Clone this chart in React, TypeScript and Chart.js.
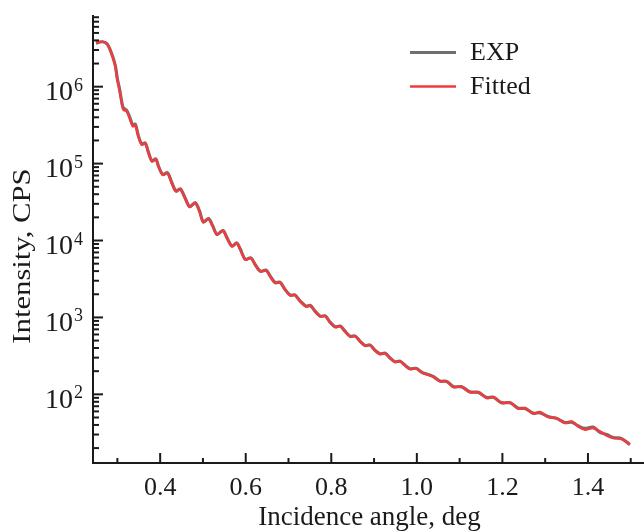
import React, { useEffect, useRef } from "react";
import { Chart, registerables } from "chart.js";

Chart.register(...registerables);

// Incidence angle (deg)
const angles = [
  0.250, 0.264, 0.276, 0.287, 0.295, 0.300, 0.305, 0.311, 0.314, 0.322,
  0.330, 0.336, 0.342, 0.349, 0.357, 0.365, 0.373, 0.381, 0.390, 0.396,
  0.406, 0.417, 0.427, 0.437, 0.447, 0.458, 0.469, 0.482, 0.492, 0.501,
  0.513, 0.523, 0.533, 0.547, 0.556, 0.568, 0.579, 0.587, 0.599, 0.612,
  0.622, 0.634, 0.648, 0.657, 0.669, 0.680, 0.692, 0.704, 0.715, 0.727,
  0.741, 0.751, 0.762, 0.774, 0.786, 0.797, 0.809, 0.821, 0.832, 0.844,
  0.856, 0.867, 0.879, 0.891, 0.902, 0.914, 0.926, 0.937, 0.949, 0.961,
  0.972, 0.984, 0.998, 1.012, 1.031, 1.039, 1.054, 1.070, 1.085, 1.105,
  1.124, 1.144, 1.163, 1.179, 1.198, 1.218, 1.237, 1.253, 1.272, 1.288,
  1.307, 1.327, 1.346, 1.362, 1.377, 1.393, 1.412, 1.428, 1.444, 1.459,
  1.479, 1.498,
];

// Measured intensity (CPS)
const expValues = [
  3.68e6, 3.84e6, 3.60e6, 2.66e6, 1.90e6, 1.26e6, 9.3e5, 6.0e5, 5.3e5, 4.9e5,
  3.85e5, 3.2e5, 3.25e5, 2.3e5, 1.79e5, 1.86e5, 1.38e5, 1.08e5, 1.15e5, 9.3e4,
  7.2e4, 7.6e4, 5.7e4, 4.4e4, 4.7e4, 3.6e4, 2.75e4, 3.1e4, 2.42e4, 1.74e4,
  1.93e4, 1.54e4, 1.2e4, 1.35e4, 1.09e4, 8450, 9300, 7800, 5700, 5950,
  4880, 4000, 4100, 3450, 2830, 2880, 2310, 1950, 1960, 1640,
  1400, 1430, 1210, 1040, 1045, 870, 755, 772, 662, 570,
  572, 492, 432, 437, 375, 336, 342, 299, 265, 270,
  240, 215, 218, 193, 177, 170, 149, 147, 126, 125,
  108, 106, 91, 91.5, 78, 77.5, 66, 65.5, 57, 57.5,
  51.5, 48.5, 43, 43.5, 39, 36, 37.5, 32, 30, 27.5,
  26.5, 22.3,
];

// Fitted intensity (CPS)
const fittedValues = [
  3.70e6, 3.85e6, 3.62e6, 2.61e6, 1.84e6, 1.23e6, 9.1e5, 5.83e5, 5.02e5, 4.78e5,
  3.72e5, 3.05e5, 3.16e5, 2.26e5, 1.76e5, 1.84e5, 1.37e5, 1.07e5, 1.14e5, 9.2e4,
  7.17e4, 7.5e4, 5.6e4, 4.35e4, 4.65e4, 3.57e4, 2.73e4, 3.08e4, 2.39e4, 1.72e4,
  1.92e4, 1.52e4, 1.19e4, 1.34e4, 1.08e4, 8380, 9270, 7710, 5630, 5920,
  4840, 3960, 4080, 3410, 2800, 2870, 2290, 1930, 1950, 1620,
  1390, 1420, 1200, 1030, 1040, 861, 750, 769, 658, 566,
  570, 488, 429, 435, 372, 334, 340, 297, 263, 268,
  238, 213, 217, 191, 175, 168, 147, 148, 124, 126,
  106, 107, 89.5, 92.3, 77.1, 78.5, 65.0, 66.4, 56.0, 58.9,
  50.7, 49.2, 42.4, 44.5, 38.3, 34.7, 36.5, 33.0, 29.0, 27.0,
  26.3, 22.1,
];

const seriesNames = ["EXP", "Fitted"];
const seriesColors = ["#6f6f6f", "#f03c3e"];

const xTickValues = [0.3, 0.4, 0.5, 0.6, 0.7, 0.8, 0.9, 1.0, 1.1, 1.2, 1.3, 1.4, 1.5];
const xTickLabels = ["", "0.4", "", "0.6", "", "0.8", "", "1.0", "", "1.2", "", "1.4", ""];
const yDecades = [2, 3, 4, 5, 6];
const yMinorDecades = [1, 2, 3, 4, 5, 6];

const xTitle = "Incidence angle, deg";
const yTitle = "Intensity, CPS";

const FONT = "'Liberation Serif', 'Times New Roman', serif";
const INK = "#1a1a1a";

const overlayPlugin = {
  id: "overlay",
  afterDraw(chart: any) {
    const ctx = chart.ctx as CanvasRenderingContext2D;
    const area = chart.chartArea;
    const xs = chart.scales.x;
    const ys = chart.scales.y;
    ctx.save();
    ctx.strokeStyle = INK;
    ctx.fillStyle = INK;
    ctx.lineWidth = 2;

    // x ticks (inward)
    xTickValues.forEach((v, i) => {
      const px = xs.getPixelForValue(v);
      const major = xTickLabels[i] !== "";
      const len = major ? 10 : 5;
      ctx.beginPath();
      ctx.moveTo(px, area.bottom);
      ctx.lineTo(px, area.bottom - len);
      ctx.stroke();
      if (major) {
        ctx.font = `26px ${FONT}`;
        ctx.textAlign = "center";
        ctx.textBaseline = "alphabetic";
        ctx.fillText(xTickLabels[i], px, 495);
      }
    });

    // y minor ticks
    yMinorDecades.forEach((d) => {
      for (let m = 2; m <= 9; m++) {
        const v = m * Math.pow(10, d);
        if (v < ys.min || v > ys.max) continue;
        const py = ys.getPixelForValue(v);
        ctx.beginPath();
        ctx.moveTo(area.left, py);
        ctx.lineTo(area.left + 6, py);
        ctx.stroke();
      }
    });

    // y major ticks + labels
    yDecades.forEach((d) => {
      const py = ys.getPixelForValue(Math.pow(10, d));
      ctx.beginPath();
      ctx.moveTo(area.left, py);
      ctx.lineTo(area.left + 10, py);
      ctx.stroke();
      ctx.font = `28px ${FONT}`;
      ctx.textAlign = "right";
      ctx.textBaseline = "alphabetic";
      ctx.fillText("10", 73, py + 13.5);
      ctx.font = `18px ${FONT}`;
      ctx.textAlign = "left";
      ctx.fillText(String(d), 74, py + 4);
    });

    // axis titles
    ctx.font = `27px ${FONT}`;
    ctx.textAlign = "center";
    ctx.textBaseline = "alphabetic";
    ctx.fillText(xTitle, (area.left + area.right) / 2 + 1, 525);
    ctx.save();
    ctx.translate(30, 256);
    ctx.rotate(-Math.PI / 2);
    ctx.scale(1.18, 1);
    ctx.font = `26px ${FONT}`;
    ctx.fillText(yTitle, 0, 0);
    ctx.restore();

    // legend
    const legendY = [52.5, 86.5];
    chart.data.datasets.forEach((ds: any, i: number) => {
      ctx.strokeStyle = ds.borderColor;
      ctx.lineWidth = i === 0 ? 3 : 2.5;
      ctx.beginPath();
      ctx.moveTo(410, legendY[i]);
      ctx.lineTo(456, legendY[i]);
      ctx.stroke();
      ctx.fillStyle = INK;
      ctx.font = `26px ${FONT}`;
      ctx.textAlign = "left";
      ctx.textBaseline = "middle";
      ctx.fillText(ds.label, 470, legendY[i] + 1);
    });
    ctx.restore();
  },
};

export default function App() {
  const ref = useRef<HTMLCanvasElement | null>(null);
  useEffect(() => {
    if (!ref.current) return;
    const chart = new Chart(ref.current, {
      type: "line",
      data: {
        datasets: [
          {
            label: seriesNames[0],
            data: angles.map((a, i) => ({ x: a, y: expValues[i] })),
            borderColor: seriesColors[0],
            backgroundColor: seriesColors[0],
            borderWidth: 3.2,
            pointRadius: 0,
            tension: 0.3,
            order: 2,
          },
          {
            label: seriesNames[1],
            data: angles.map((a, i) => ({ x: a, y: fittedValues[i] })),
            borderColor: seriesColors[1],
            backgroundColor: seriesColors[1],
            borderWidth: 2.4,
            pointRadius: 0,
            tension: 0.3,
            order: 1,
          },
        ],
      },
      options: {
        animation: false,
        responsive: false,
        devicePixelRatio: 1,
        layout: { padding: { top: 16, right: 0, left: 0, bottom: 0 } },
        plugins: {
          legend: { display: false },
          tooltip: { enabled: false },
        },
        scales: {
          x: {
            type: "linear",
            min: 0.243,
            max: 1.531,
            ticks: { display: false },
            grid: { display: false, drawTicks: false },
            border: { display: true, color: INK, width: 2 },
            afterFit: (s: any) => {
              s.height = 69;
            },
          },
          y: {
            type: "logarithmic",
            min: 12.8,
            max: 8.3e6,
            ticks: { display: false },
            grid: { display: false, drawTicks: false },
            border: { display: true, color: INK, width: 2 },
            afterFit: (s: any) => {
              s.width = 93;
            },
          },
        },
      },
      plugins: [overlayPlugin],
    });
    return () => chart.destroy();
  }, []);
  return (
    <div style={{ position: "absolute", left: 0, top: 0, width: 644, height: 532, background: "#fff" }}>
      <canvas ref={ref} width={644} height={532} />
    </div>
  );
}
